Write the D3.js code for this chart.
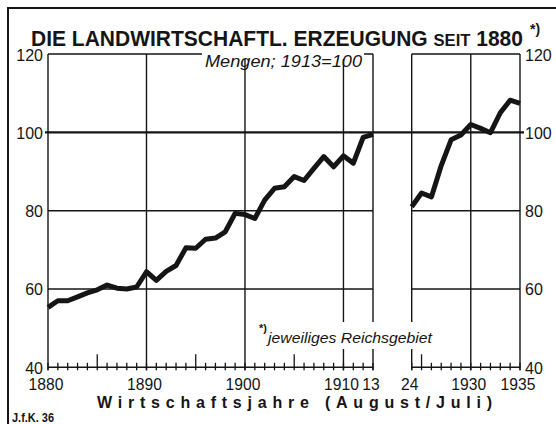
<!DOCTYPE html>
<html>
<head>
<meta charset="utf-8">
<script src="https://cdn.jsdelivr.net/npm/d3@7"></script>
<style>
  body { margin: 0; background: #fff; }
  svg { display: block; }
  text { fill: #151515; font-family: "Liberation Sans", Arial, sans-serif; }
</style>
</head>
<body>
<div id="chart"></div>
<script>
// Data (Mengen; 1913 = 100)
const yearsPreWar = [1880, 1881, 1882, 1883, 1884, 1885, 1886, 1887, 1888, 1889,
    1890, 1891, 1892, 1893, 1894, 1895, 1896, 1897, 1898, 1899,
    1900, 1901, 1902, 1903, 1904, 1905, 1906, 1907, 1908, 1909,
    1910, 1911, 1912, 1913]
const valuesPreWar = [55.3, 57.0, 57.0, 58.0, 59.0, 59.8, 61.0, 60.2, 60.0, 60.5,
    64.4, 62.2, 64.5, 66.0, 70.5, 70.4, 72.7, 73.0, 74.6, 79.3,
    79.0, 78.0, 82.7, 85.7, 86.1, 88.7, 87.7, 90.8, 93.8, 91.2,
    94.0, 92.1, 98.7, 99.5]
const yearsPostWar = [1924, 1925, 1926, 1927, 1928, 1929, 1930, 1931, 1932, 1933, 1934, 1935]
const valuesPostWar = [81.0, 84.5, 83.5, 91.5, 98.1, 99.3, 102.0, 101.0, 99.9, 105.0, 108.2, 107.4]

const yTicks = [40, 60, 80, 100, 120]
const leftLabelYears = [1880, 1890, 1900, 1910, 1913]
const leftLabels = ['1880', '1890', '1900', '1910', '13']
const rightLabelYears = [1924, 1930, 1935]
const rightLabels = ['24', '1930', '1935']
const leftGridYears = [1890, 1900, 1910]
const rightGridYears = [1930]
const majorTickYears = [1885, 1895, 1905, 1925]

const title = 'DIE LANDWIRTSCHAFTL. ERZEUGUNG '
const titleSmall = 'SEIT'
const titleYear = ' 1880'
const subtitle = 'Mengen; 1913=100'
const footnote = 'jeweiliges Reichsgebiet'
const xTitle = 'Wirtschaftsjahre (August/Juli)'
const credit = 'J.f.K. 36'

// Dimensions
const dimensions = { width: 556, height: 424 }
const ink = '#151515'

const svg = d3.select('#chart')
    .append('svg')
    .attr('width', dimensions.width)
    .attr('height', dimensions.height)

// Scales
const yScale = d3.scaleLinear().domain([40, 120]).range([367.3, 54])
const xLeft = d3.scaleLinear().domain([1880, 1913]).range([48, 373])
const xRight = d3.scaleLinear().domain([1924, 1935]).range([411.7, 520])

// Frame
svg.append('path')
    .attr('d', 'M8,424 L8,8 L556,8')
    .attr('fill', 'none')
    .attr('stroke', ink)
    .attr('stroke-width', 2)

// Title
const titleText = svg.append('text')
    .attr('x', 31)
    .attr('y', 45.5)
    .attr('font-size', 21.5)
    .attr('font-weight', 'bold')
    .attr('textLength', 492)
    .attr('lengthAdjust', 'spacingAndGlyphs')
titleText.append('tspan').text(title)
titleText.append('tspan').attr('font-size', 17).text(titleSmall)
titleText.append('tspan').text(titleYear)

svg.append('text')
    .attr('x', 530)
    .attr('y', 34)
    .attr('font-size', 14)
    .attr('font-weight', 'bold')
    .text('*)')

// Panels
const panels = [
    { x: xLeft, years: yearsPreWar, values: valuesPreWar, grid: leftGridYears,
      labelYears: leftLabelYears, labels: leftLabels },
    { x: xRight, years: yearsPostWar, values: valuesPostWar, grid: rightGridYears,
      labelYears: rightLabelYears, labels: rightLabels },
]

panels.forEach(p => {
    const [x0, x1] = p.x.range()
    const g = svg.append('g')

    // horizontal grid
    g.selectAll('.hgrid')
        .data([120, 80, 60, 40])
        .join('line')
        .attr('x1', x0)
        .attr('x2', x1)
        .attr('y1', d => yScale(d))
        .attr('y2', d => yScale(d))
        .attr('stroke', ink)
        .attr('stroke-width', 1.5)

    // edges + vertical grid
    g.selectAll('.vgrid')
        .data([...p.x.domain(), ...p.grid])
        .join('line')
        .attr('x1', d => p.x(d))
        .attr('x2', d => p.x(d))
        .attr('y1', yScale(120))
        .attr('y2', yScale(40) + 3)
        .attr('stroke', ink)
        .attr('stroke-width', 1.4)

    // yearly ticks
    const years = d3.range(p.x.domain()[0], p.x.domain()[1] + 1)
    g.selectAll('.tick')
        .data(years)
        .join('line')
        .attr('x1', d => p.x(d))
        .attr('x2', d => p.x(d))
        .attr('y1', d => majorTickYears.includes(d) ? yScale(40) - 13 : yScale(40) - 4.5)
        .attr('y2', yScale(40) + 3)
        .attr('stroke', ink)
        .attr('stroke-width', 1.3)

    // x labels
    g.selectAll('.xlabel')
        .data(p.labelYears)
        .join('text')
        .attr('x', d => p.x(d) - 2)
        .attr('y', 390)
        .attr('text-anchor', 'middle')
        .attr('font-size', 17)
        .attr('textLength', (d, i) => p.labels[i].length * 8.7)
        .attr('lengthAdjust', 'spacingAndGlyphs')
        .text((d, i) => p.labels[i])
})

// 100 line crosses the gap
svg.append('line')
    .attr('x1', 45)
    .attr('x2', 524)
    .attr('y1', yScale(100))
    .attr('y2', yScale(100))
    .attr('stroke', ink)
    .attr('stroke-width', 2.2)

// Y labels both sides
svg.selectAll('.ylabelL')
    .data(yTicks)
    .join('text')
    .attr('x', 43)
    .attr('y', d => yScale(d) + 6.5)
    .attr('text-anchor', 'end')
    .attr('font-size', 16)
    .text(d => d)

svg.selectAll('.ylabelR')
    .data(yTicks)
    .join('text')
    .attr('x', 525)
    .attr('y', d => yScale(d) + 6.5)
    .attr('font-size', 16)
    .text(d => d)

// Subtitle, breaking the top border
svg.append('rect')
    .attr('x', 202).attr('y', 49).attr('width', 162).attr('height', 10)
    .attr('fill', '#fff')
svg.append('text')
    .attr('x', 205)
    .attr('y', 67)
    .attr('font-size', 17)
    .attr('font-style', 'italic')
    .attr('textLength', 157)
    .attr('lengthAdjust', 'spacingAndGlyphs')
    .text(subtitle)

// Footnote, breaking the vertical lines
svg.append('rect')
    .attr('x', 256).attr('y', 322).attr('width', 180).attr('height', 27)
    .attr('fill', '#fff')
svg.append('text')
    .attr('x', 259)
    .attr('y', 332)
    .attr('font-size', 11)
    .attr('font-weight', 'bold')
    .text('*)')
svg.append('text')
    .attr('x', 268)
    .attr('y', 343)
    .attr('font-size', 15)
    .attr('font-style', 'italic')
    .attr('textLength', 164)
    .attr('lengthAdjust', 'spacingAndGlyphs')
    .text(footnote)

// Data lines
panels.forEach(p => {
    const lineGenerator = d3.line()
        .x((d, i) => p.x(p.years[i]))
        .y(d => yScale(d))

    svg.append('path')
        .datum(p.values)
        .attr('d', lineGenerator)
        .attr('fill', 'none')
        .attr('stroke', ink)
        .attr('stroke-width', 5)
        .attr('stroke-linejoin', 'round')
})

// Axis title
svg.append('text')
    .attr('x', 97)
    .attr('y', 408)
    .attr('font-size', 16)
    .attr('font-weight', 'bold')
    .attr('textLength', 395)
    .attr('lengthAdjust', 'spacing')
    .text(xTitle)

// Credit
svg.append('text')
    .attr('x', 12)
    .attr('y', 421.5)
    .attr('font-size', 12)
    .attr('font-weight', 'bold')
    .attr('textLength', 42)
    .attr('lengthAdjust', 'spacingAndGlyphs')
    .text(credit)
</script>
</body>
</html>
